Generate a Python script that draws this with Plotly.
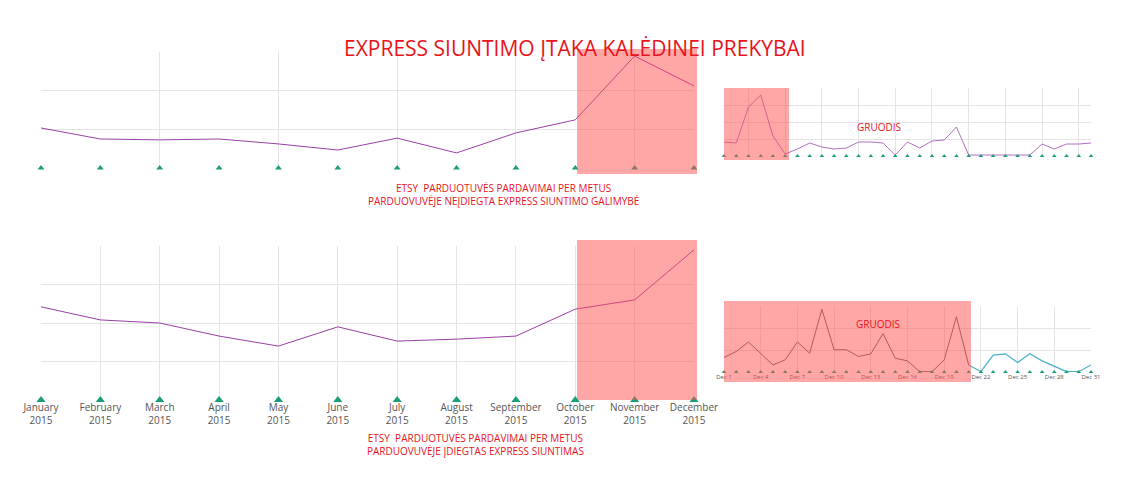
import plotly.graph_objects as go

W, H = 1134, 503
months = ["January", "February", "March", "April", "May", "June", "July",
          "August", "September", "October", "November", "December"]
month_labels = [m + "<br>2015" for m in months]
sales_no_express = [1.38, 1.0, 0.97, 1.0, 0.83, 0.62, 1.03, 0.52, 1.21, 1.66, 3.86, 2.83]
sales_express = [2.42, 2.08, 2.0, 1.66, 1.4, 1.9, 1.53, 1.58, 1.66, 2.36, 2.6, 3.9]
days = list(range(1, 32))
dec_no_express = [14, 13, 49, 61, 20, 2, 7, 13, 9, 7, 8, 14, 14, 13, 1, 14, 8, 15, 16, 29,
                  1, 1, 1, 1, 1, 1, 12, 7, 12, 12, 13]
dec_express = [43, 61, 89, 56, 21, 36, 89, 56, 186, 66, 66, 46, 54, 114, 41, 33, 1, 1, 36, 164,
               21, 1, 50, 54, 28, 54, 33, 18, 1, 1, 21]
day_ticks = [1, 4, 7, 10, 13, 16, 19, 22, 25, 28, 31]

def dx(a, b): return [a / W, b / W]
def dy(top, bot): return [1 - bot / H, 1 - top / H]

fig = go.Figure()
GREEN = "#1a9e77"
PURPLE = "#9b3fa6"
RED = "#e8141b"

fig.add_trace(go.Scatter(x=list(range(12)), y=sales_no_express, mode="lines",
                         line=dict(color=PURPLE, width=1), xaxis="x", yaxis="y"))
fig.add_trace(go.Scatter(x=list(range(12)), y=[0] * 12, mode="markers", cliponaxis=False,
                         marker=dict(symbol="triangle-up", size=6, color=GREEN), xaxis="x", yaxis="y"))
fig.add_trace(go.Scatter(x=list(range(12)), y=sales_express, mode="lines",
                         line=dict(color=PURPLE, width=1), xaxis="x2", yaxis="y2"))
fig.add_trace(go.Scatter(x=list(range(12)), y=[0] * 12, mode="markers", cliponaxis=False,
                         marker=dict(symbol="triangle-up", size=8, color=GREEN), xaxis="x2", yaxis="y2"))
fig.add_trace(go.Scatter(x=days, y=dec_no_express, mode="lines",
                         line=dict(color="#b070c0", width=1), xaxis="x3", yaxis="y3"))
fig.add_trace(go.Scatter(x=days, y=[0] * 31, mode="markers", cliponaxis=False,
                         marker=dict(symbol="triangle-up", size=4, color=GREEN), xaxis="x3", yaxis="y3"))
fig.add_trace(go.Scatter(x=days[:21], y=dec_express[:21], mode="lines",
                         line=dict(color="#666", width=1), xaxis="x4", yaxis="y4"))
fig.add_trace(go.Scatter(x=days[20:], y=dec_express[20:], mode="lines",
                         line=dict(color="#4ab0c8", width=1.2), xaxis="x4", yaxis="y4"))
fig.add_trace(go.Scatter(x=days, y=[0] * 31, mode="markers", cliponaxis=False,
                         marker=dict(symbol="triangle-up", size=4, color=GREEN), xaxis="x4", yaxis="y4"))

grid = dict(showgrid=True, gridcolor="#e4e4e4", zeroline=False, showline=False, automargin=False)
fig.update_layout(
    width=W, height=H, margin=dict(l=0, r=0, t=0, b=0, autoexpand=False), showlegend=False,
    plot_bgcolor="white", paper_bgcolor="white",
    font=dict(family="Open Sans", color="#555"),
    xaxis=dict(domain=dx(33, 686), range=[0, 11], showticklabels=False, anchor="y", **grid),
    yaxis=dict(domain=dy(44, 160), range=[0, 4], dtick=1.33, showticklabels=False, anchor="x", **grid),
    xaxis2=dict(domain=dx(33, 686), range=[0, 11], tickvals=list(range(12)), ticktext=month_labels,
                tickfont=dict(size=10, color="#555"), anchor="y2", **grid),
    yaxis2=dict(domain=dy(238, 392), range=[0, 4], dtick=1, showticklabels=False, anchor="x2", **grid),
    xaxis3=dict(domain=dx(716, 1083), range=[1, 31], dtick=3, showticklabels=False, anchor="y3", **grid),
    yaxis3=dict(domain=dy(80, 148), range=[0, 68], dtick=17, showticklabels=False, anchor="x3", **grid),
    xaxis4=dict(domain=dx(716, 1083), range=[1, 31], tickvals=day_ticks,
                ticktext=["Dec " + str(d) for d in day_ticks], tickfont=dict(size=6, color="#555"),
                anchor="y4", **grid),
    yaxis4=dict(domain=dy(298, 364), range=[0, 196], dtick=65, showticklabels=False, anchor="x4", **grid),
)

rects = [(569, 41, 689, 166), (569, 232, 689, 392), (716, 80, 781, 152), (716, 293, 963, 374)]
for x0, y0, x1, y1 in rects:
    fig.add_shape(type="rect", xref="paper", yref="paper", x0=x0 / W, x1=x1 / W,
                  y0=1 - y1 / H, y1=1 - y0 / H, fillcolor="rgba(255,80,80,0.5)", line_width=0, layer="above")

def txt(x, y, s, size):
    fig.add_annotation(x=x / W, y=1 - y / H, xref="paper", yref="paper", text=s, showarrow=False,
                       font=dict(size=size, color=RED, family="Open Sans"))

txt(567, 24, "EXPRESS SIUNTIMO ĮTAKA KALĖDINEI PREKYBAI", 21)
txt(358, 186, "ETSY  PARDUOTUVĖS PARDAVIMAI PER METUS<br>PARDUOVUVĖJE NEĮDIEGTA EXPRESS SIUNTIMO GALIMYBĖ", 10)
txt(357, 452, "ETSY  PARDUOTUVĖS PARDAVIMAI PER METUS<br>PARDUOVUVĖJE ĮDIEGTAS EXPRESS SIUNTIMAS", 10)
txt(895, 110, "GRUODIS", 10)
txt(894, 316, "GRUODIS", 10)

fig.write_html("out.html")
